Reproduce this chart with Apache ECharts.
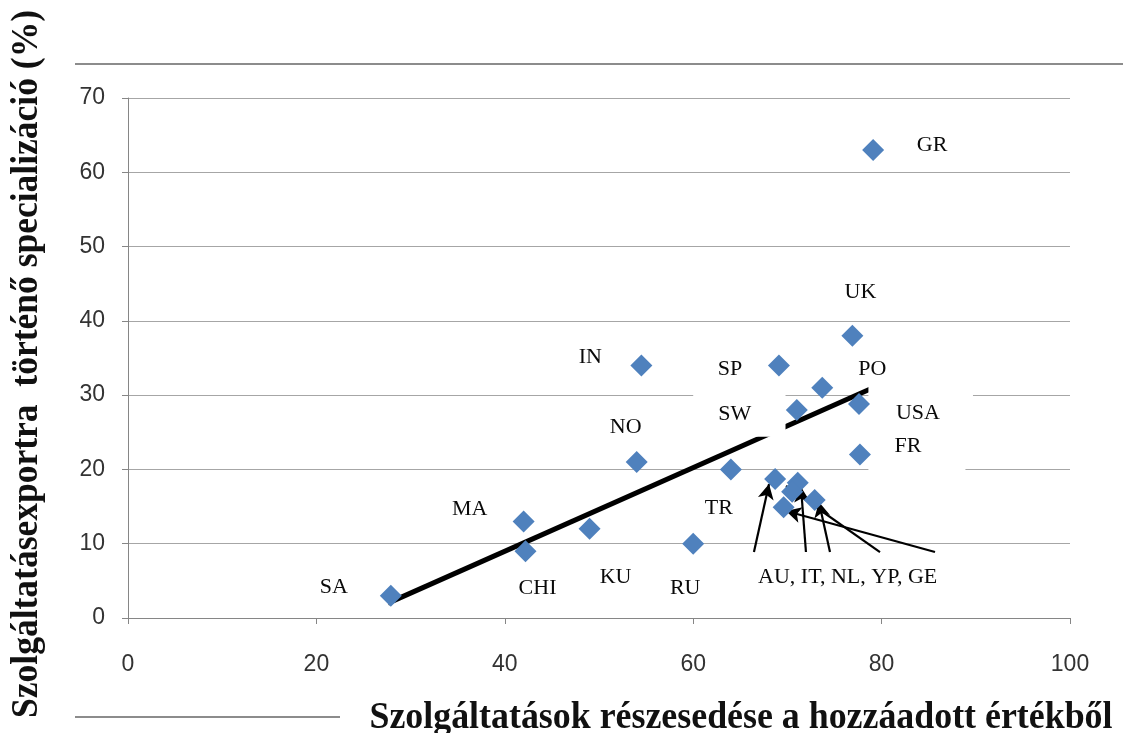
<!DOCTYPE html>
<html>
<head>
<meta charset="utf-8">
<script src="https://cdn.jsdelivr.net/npm/echarts@6/dist/echarts.min.js"></script>
<style>
  html, body { margin: 0; padding: 0; background: #fff; }
  #chart { width: 1123px; height: 733px; }
</style>
</head>
<body>
<div id="chart"></div>
<script>
// data
const countries = ['SA', 'MA', 'CHI', 'KU', 'NO', 'IN', 'RU', 'TR', 'AU', 'IT', 'YP', 'NL', 'GE', 'SP', 'SW', 'PO', 'UK', 'USA', 'FR', 'GR'];
const serviceShare = [27.9, 42, 42.2, 49, 54, 54.5, 60, 64, 68.7, 71.1, 70.5, 72.9, 69.6, 69.1, 71, 73.7, 76.9, 77.6, 77.7, 79.1];
const exportSpec = [3, 13, 9, 12, 21, 34, 10, 20, 18.7, 18.2, 17.0, 15.9, 14.9, 34, 28, 31, 38, 28.8, 22, 63];
const trendX = [27.6, 79.1];
const trendY = [2.0, 31.0];
const xTicks = [0, 20, 40, 60, 80, 100];
const yTicks = [0, 10, 20, 30, 40, 50, 60, 70];
const groupLabel = 'AU, IT, NL, YP, GE';
const groupMembers = ['AU', 'IT', 'NL', 'YP', 'GE'];
const groupLabelAt = [76.4, 5.5];
const arrowFrom = [[66.45, 8.88], [71.97, 8.88], [74.52, 8.88], [79.83, 8.88], [85.67, 8.88]];
const arrowTo = [[68.05, 18.03], [71.44, 17.63], [73.35, 15.61], [69.85, 17.77], [69.85, 14.4]];

const xTitle = 'Szolgáltatások részesedése a hozzáadott értékből';
const yTitle = 'Szolgáltatásexportra  történő specializáció (%)';

// label placement (pixel offset of label centre from the marker)
const labelOffsets = {
  SA: [-57, -8], MA: [-54, -12], CHI: [12, 37], KU: [26, 48], NO: [-11, -35],
  IN: [-51, -8], RU: [-8, 45], TR: [-12, 39], SP: [-49, 4], SW: [-62, 4],
  PO: [50, -18], UK: [8, -43], USA: [59, 9], FR: [48, -8], GR: [59, -5]
};
// white boxes behind some labels, in data units [x0, y0, x1, y1]
const maskBoxes = [[60.0, 24.4, 69.8, 31.0], [78.6, 25.5, 89.7, 31.5], [78.6, 18.8, 88.9, 25.5]];

const serifBold = 'bold 37px "Liberation Serif"';
function textWidth(txt, font) {
  const c = document.createElement('canvas').getContext('2d');
  c.font = font;
  return c.measureText(txt).width;
}

const chart = echarts.init(document.getElementById('chart'));

const points = countries.map(function (c, i) {
  const off = labelOffsets[c];
  return {
    name: c,
    value: [serviceShare[i], exportSpec[i]],
    label: off ? { show: true, position: 'inside', offset: off } : { show: false }
  };
});

const option = {
  animation: false,
  backgroundColor: '#ffffff',
  grid: { left: 128, right: 53, top: 98, bottom: 115 },
  xAxis: {
    type: 'value',
    min: xTicks[0],
    max: xTicks[xTicks.length - 1],
    interval: xTicks[1] - xTicks[0],
    axisLine: { lineStyle: { color: '#868686', width: 1 } },
    axisTick: { show: true, inside: false, length: 6, lineStyle: { color: '#868686' } },
    axisLabel: { margin: 35, fontFamily: 'Liberation Sans', fontSize: 23, color: '#333333' },
    splitLine: { show: false }
  },
  yAxis: {
    type: 'value',
    min: yTicks[0],
    max: yTicks[yTicks.length - 1],
    interval: yTicks[1] - yTicks[0],
    axisLine: { show: true, lineStyle: { color: '#868686', width: 1 } },
    axisTick: { show: true, inside: false, length: 6, lineStyle: { color: '#868686' } },
    axisLabel: { margin: 23, fontFamily: 'Liberation Sans', fontSize: 23, color: '#333333' },
    splitLine: { lineStyle: { color: '#a6a6a6', width: 1 } }
  },
  series: [
    {
      name: 'trend',
      type: 'line',
      z: 2,
      symbol: 'none',
      silent: true,
      lineStyle: { color: '#000000', width: 5 },
      data: trendX.map(function (x, i) { return [x, trendY[i]]; })
    },
    {
      name: 'countries',
      type: 'scatter',
      z: 5,
      symbol: 'diamond',
      symbolSize: 22,
      itemStyle: { color: '#4f81bd', opacity: 1 },
      label: {
        formatter: '{b}',
        fontFamily: 'Liberation Serif',
        fontSize: 22,
        color: '#0a0a0a'
      },
      data: points
    },
    {
      name: 'arrows',
      type: 'line',
      z: 6,
      data: [],
      markLine: {
        silent: true,
        symbol: ['none', 'arrow'],
        symbolSize: [12, 15],
        label: { show: false },
        lineStyle: { color: '#000000', width: 2.2, type: 'solid' },
        data: arrowFrom.map(function (p, i) {
          return [{ coord: p }, { coord: arrowTo[i] }];
        })
      },
      markPoint: {
        silent: true,
        symbol: 'rect',
        symbolSize: 1,
        itemStyle: { color: 'rgba(0,0,0,0)' },
        label: {
          show: true,
          position: 'inside',
          formatter: groupLabel,
          fontFamily: 'Liberation Serif',
          fontSize: 22,
          color: '#0a0a0a'
        },
        data: [{ coord: groupLabelAt, name: groupMembers.join(', ') }]
      }
    }
  ]
};

chart.setOption(option);

// white boxes and decorations, positioned through the chart's own scales
const rects = maskBoxes.map(function (b) {
  const p0 = chart.convertToPixel({ gridIndex: 0 }, [b[0], b[3]]);
  const p1 = chart.convertToPixel({ gridIndex: 0 }, [b[2], b[1]]);
  return {
    type: 'rect',
    z: 3,
    silent: true,
    shape: { x: p0[0], y: p0[1], width: p1[0] - p0[0], height: p1[1] - p0[1] },
    style: { fill: '#ffffff' }
  };
});

const xTitleScale = 743 / textWidth(xTitle, serifBold);
const yTitleScale = 708 / textWidth(yTitle, serifBold);

chart.setOption({
  graphic: rects.concat([
    {
      type: 'line', silent: true, z: 1,
      shape: { x1: 75, y1: 64, x2: 1123, y2: 64 },
      style: { stroke: '#8c8c8c', lineWidth: 2 }
    },
    {
      type: 'line', silent: true, z: 1,
      shape: { x1: 75, y1: 717, x2: 340, y2: 717 },
      style: { stroke: '#8c8c8c', lineWidth: 2 }
    },
    {
      type: 'text', silent: true, z: 1,
      x: 741, y: 718, scaleX: xTitleScale,
      style: { text: xTitle, font: serifBold, fill: '#111111', align: 'center', verticalAlign: 'middle' }
    },
    {
      type: 'text', silent: true, z: 1,
      x: 27, y: 364, rotation: Math.PI / 2, scaleX: yTitleScale,
      style: { text: yTitle, font: serifBold, fill: '#111111', align: 'center', verticalAlign: 'middle' }
    }
  ])
});
</script>
</body>
</html>
